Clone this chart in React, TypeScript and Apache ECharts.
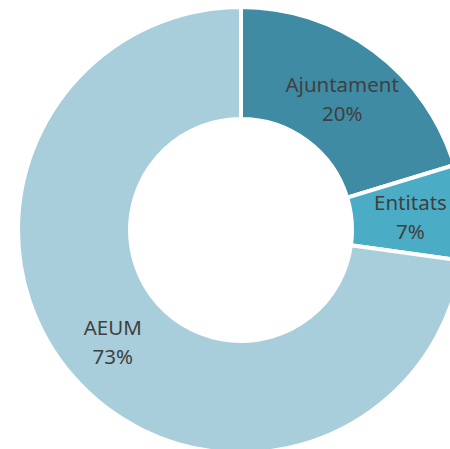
import React, { useEffect, useRef } from "react";
import * as echarts from "echarts";

const categories = ["Ajuntament", "Entitats", "AEUM"];
const values = [20.3, 6.9, 72.8];
const colors = ["#3E8BA3", "#4BACC6", "#A9CEDB"];

export default function App() {
  const ref = useRef<HTMLDivElement>(null);
  useEffect(() => {
    if (!ref.current) return;
    const chart = echarts.init(ref.current, null, { renderer: "svg" });
    chart.setOption({
      animation: false,
      series: [
        {
          type: "pie",
          center: [241, 230],
          radius: [111, 223],
          startAngle: 90,
          clockwise: true,
          avoidLabelOverlap: false,
          itemStyle: { borderColor: "#ffffff", borderWidth: 4 },
          label: {
            show: true,
            position: "inside",
            color: "#404040",
            fontFamily: "Noto Sans",
            fontSize: 20.5,
            lineHeight: 29,
            formatter: (p: any) => `${p.name}\n${Math.round(p.percent)}%`,
          },
          labelLine: { show: false },
          emphasis: { disabled: true },
          data: categories.map((c, i) => ({
            name: c,
            value: values[i],
            itemStyle: { color: colors[i] },
            label: i === 0 ? { offset: [0, 5] } : undefined,
          })),
        },
      ],
    });
    return () => chart.dispose();
  }, []);
  return (
    <div
      ref={ref}
      style={{ position: "fixed", left: 0, top: 0, width: 450, height: 449, background: "#fff" }}
    />
  );
}
